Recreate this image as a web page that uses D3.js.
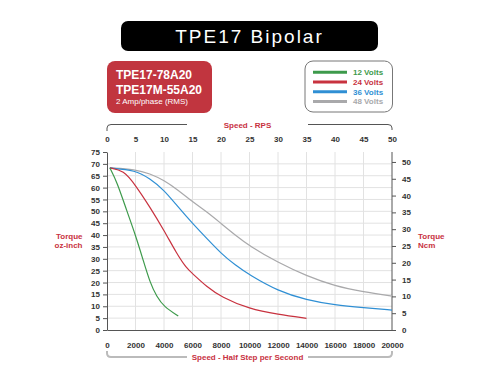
<!DOCTYPE html>
<meta charset="utf-8">
<script src="https://d3js.org/d3.v7.min.js"></script>
<style>
  body { margin: 0; background: #fff; }
  text { font-family: Arial, "Liberation Sans", sans-serif; }
</style>
<div id="chart"></div>
<script>

// speed in half steps per second, torque in oz-inch
var steps12 = [200, 700, 1400, 2000, 2560, 3020, 3490, 4000, 5000]
var torque12 = [68.3, 62.4, 50, 40, 29, 20, 14, 9.8, 5.9]

var steps24 = [200, 1160, 2000, 3000, 4000, 4880, 5580, 6000, 7000, 8000, 10000, 12000, 14000]
var torque24 = [68.3, 67.3, 61, 51.9, 42, 32.3, 26, 23.8, 18.2, 14, 8.8, 6.6, 4.9]

var steps36 = [200, 2000, 3000, 4000, 4880, 6000, 7000, 8000, 9000, 10000, 12000, 14000, 16000, 18000, 20000]
var torque36 = [68.3, 67.3, 63.8, 59, 52.6, 44.9, 38.6, 32.3, 27.3, 23.2, 16.4, 12.6, 10.5, 9.4, 8.4]

var steps48 = [200, 2000, 3000, 4000, 5000, 6000, 7000, 8000, 9000, 10000, 12000, 14000, 16000, 18000, 20000]
var torque48 = [68.3, 67.7, 65.9, 63.1, 58.9, 54, 49.8, 44.9, 40, 35.4, 28.4, 22.8, 18.5, 16.1, 14.3]

var seriesNames = ["12 Volts", "24 Volts", "36 Volts", "48 Volts"]
var seriesColors = ["#3d9a4b", "#c8323f", "#2f8fd4", "#a9a9ab"]

var stepTicks = [0, 2000, 4000, 6000, 8000, 10000, 12000, 14000, 16000, 18000, 20000]
var rpsTicks = [0, 5, 10, 15, 20, 25, 30, 35, 40, 45, 50]
var ozTicks = [0, 5, 10, 15, 20, 25, 30, 35, 40, 45, 50, 55, 60, 65, 70, 75]
var ncmTicks = [0, 5, 10, 15, 20, 25, 30, 35, 40, 45, 50]

var W = 500, H = 375
var svg = d3.select("#chart").append("svg")
  .attr("width", W).attr("height", H)

var x = d3.scaleLinear().domain([0, 20000]).range([107, 392])
var xRps = d3.scaleLinear().domain([0, 50]).range([107, 392])
var y = d3.scaleLinear().domain([0, 75]).range([330, 152])
var yNcm = d3.scaleLinear().domain([0, 75 * 0.7062]).range([330, 152])

var red = "#c8323f"

// title
svg.append("rect")
  .attr("x", 121).attr("y", 21).attr("width", 257).attr("height", 30)
  .attr("rx", 7).attr("fill", "#000")
svg.append("text")
  .attr("x", 249.5).attr("y", 43)
  .attr("text-anchor", "middle")
  .attr("fill", "#fff")
  .style("font-size", "19px")
  .style("letter-spacing", "2px")
  .text("TPE17 Bipolar")

// model box
svg.append("rect")
  .attr("x", 107).attr("y", 61).attr("width", 105).attr("height", 52)
  .attr("rx", 8).attr("fill", "#c1353f")
svg.append("text").attr("x", 116).attr("y", 78.5)
  .attr("fill", "#fff").style("font-size", "12px").style("font-weight", "bold")
  .text("TPE17-78A20")
svg.append("text").attr("x", 116).attr("y", 94)
  .attr("fill", "#fff").style("font-size", "12px").style("font-weight", "bold")
  .text("TPE17M-55A20")
svg.append("text").attr("x", 116).attr("y", 103.5)
  .attr("fill", "#fff").style("font-size", "8px")
  .text("2 Amp/phase (RMS)")

// legend
svg.append("rect")
  .attr("x", 305).attr("y", 61).attr("width", 87.5).attr("height", 51)
  .attr("rx", 8).attr("fill", "#fff").attr("stroke", "#777").attr("stroke-width", 1)
seriesNames.forEach(function(name, i) {
  var ly = 72.3 + i * 9.7
  svg.append("line")
    .attr("x1", 313).attr("x2", 347).attr("y1", ly).attr("y2", ly)
    .attr("stroke", seriesColors[i]).attr("stroke-width", 3)
  svg.append("text")
    .attr("x", 353).attr("y", ly + 3)
    .attr("fill", seriesColors[i])
    .style("font-size", "8px").style("font-weight", "bold")
    .text(name)
})

// grid
svg.append("g").selectAll("line")
  .data(ozTicks.filter(function(d) { return d > 0 && d < 75 }))
  .enter().append("line")
  .attr("x1", x(0)).attr("x2", x(20000))
  .attr("y1", function(d) { return y(d) }).attr("y2", function(d) { return y(d) })
  .attr("stroke", "#e2e2e2").attr("stroke-width", 1)
svg.append("g").selectAll("line")
  .data(stepTicks.filter(function(d) { return d > 0 && d < 20000 }))
  .enter().append("line")
  .attr("x1", function(d) { return x(d) }).attr("x2", function(d) { return x(d) })
  .attr("y1", y(75)).attr("y2", y(0))
  .attr("stroke", "#e2e2e2").attr("stroke-width", 1)

// axes
var tickFont = function(g) {
  g.selectAll("text")
    .style("font-size", "8px").style("font-weight", "bold")
    .attr("fill", "#333")
  g.selectAll("line").attr("stroke", "#555")
  g.select(".domain").attr("stroke", "#555")
}

svg.append("g")
  .attr("transform", "translate(" + x(0) + ",0)")
  .call(d3.axisLeft(y).tickValues(ozTicks).tickSize(4).tickSizeOuter(0).tickPadding(3))
  .call(tickFont)

svg.append("g")
  .attr("transform", "translate(" + x(20000) + ",0)")
  .call(d3.axisRight(yNcm).tickValues(ncmTicks).tickSize(4).tickSizeOuter(0).tickPadding(6))
  .call(tickFont)
  .call(function(g) { g.select(".domain").attr("d", "M0," + y(75) + "V" + y(0)) })

svg.append("g")
  .attr("transform", "translate(0," + y(0) + ")")
  .call(d3.axisBottom(x).tickValues(stepTicks).tickFormat(d3.format("d"))
    .tickSize(0).tickSizeOuter(0).tickPadding(12))
  .call(tickFont)

svg.append("g")
  .attr("transform", "translate(0," + (y(75) - 6) + ")")
  .call(d3.axisTop(xRps).tickValues(rpsTicks).tickSize(0).tickPadding(4))
  .call(tickFont)
  .call(function(g) { g.select(".domain").remove() })

// brackets
svg.append("path")
  .attr("d", "M107,131 V128 Q107,124.5 111,124.5 H187 M308,124.5 H388 Q392,124.5 392,128 V130")
  .attr("fill", "none").attr("stroke", "#555").attr("stroke-width", 1)
svg.append("text")
  .attr("x", 247.5).attr("y", 128)
  .attr("text-anchor", "middle").attr("fill", red)
  .style("font-size", "8px").style("font-weight", "bold")
  .text("Speed - RPS")

svg.append("path")
  .attr("d", "M107,351 V353 Q107,357 111,357 H187 M308,357 H388 Q392,357 392,353 V351")
  .attr("fill", "none").attr("stroke", "#bbb").attr("stroke-width", 2)
svg.append("text")
  .attr("x", 247.5).attr("y", 360)
  .attr("text-anchor", "middle").attr("fill", red)
  .style("font-size", "8px").style("font-weight", "bold")
  .text("Speed - Half Step per Second")

// side labels
svg.append("text").attr("x", 82.5).attr("y", 238.5)
  .attr("text-anchor", "end").attr("fill", red)
  .style("font-size", "8px").style("font-weight", "bold").text("Torque")
svg.append("text").attr("x", 82.5).attr("y", 248)
  .attr("text-anchor", "end").attr("fill", red)
  .style("font-size", "8px").style("font-weight", "bold").text("oz-inch")
svg.append("text").attr("x", 418).attr("y", 238.5)
  .attr("fill", red)
  .style("font-size", "8px").style("font-weight", "bold").text("Torque")
svg.append("text").attr("x", 418).attr("y", 248)
  .attr("fill", red)
  .style("font-size", "8px").style("font-weight", "bold").text("Ncm")

// curves
var line = d3.line()
  .x(function(d) { return x(d[0]) })
  .y(function(d) { return y(d[1]) })
  .curve(d3.curveBasis)

var allSteps = [steps12, steps24, steps36, steps48]
var allTorque = [torque12, torque24, torque36, torque48]

// draw 48V first so lower voltages sit on top
for (var i = 3; i >= 0; i--) {
  var pts = d3.zip(allSteps[i], allTorque[i])
  svg.append("path")
    .datum(pts)
    .attr("d", line)
    .attr("fill", "none")
    .attr("stroke", seriesColors[i])
    .attr("stroke-width", 1.2)
}

</script>
